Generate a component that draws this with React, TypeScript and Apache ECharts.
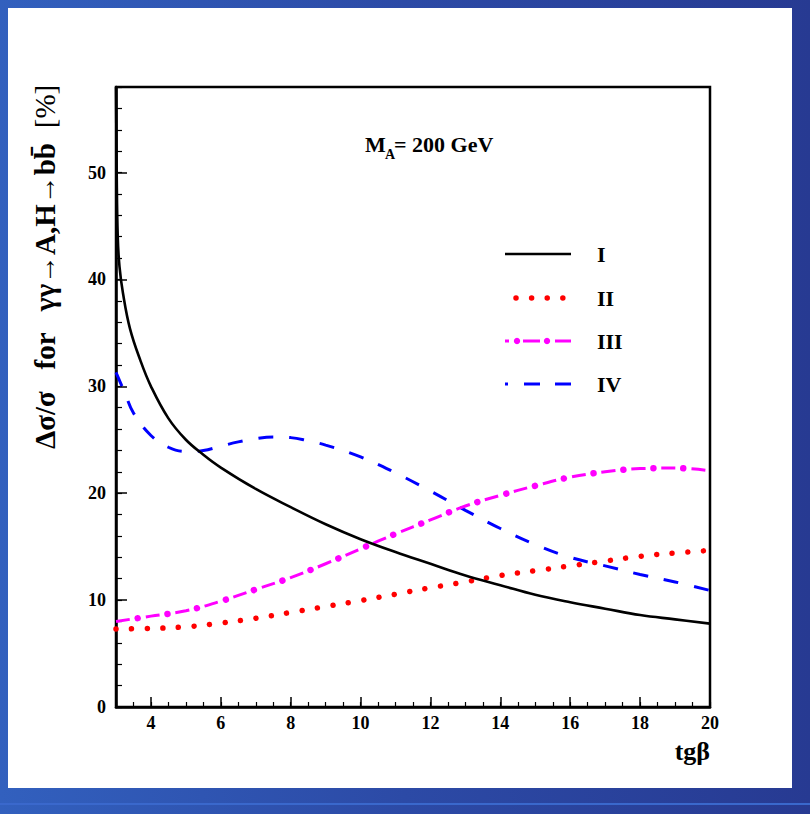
import React, { useEffect, useRef } from "react";
import * as echarts from "echarts";

// tgβ sample points and Δσ/σ [%] for the four scenarios
const xCurveI = [3.0, 3.02, 3.05, 3.1, 3.2, 3.4, 3.7, 4, 4.5, 5, 5.5, 6, 7, 8, 9, 10, 11, 12, 13, 14, 15, 16, 17, 18, 19, 20];
const yCurveI = [58, 50, 44, 41.2, 38.7, 35.4, 32.4, 30.0, 27.0, 25.0, 23.6, 22.4, 20.4, 18.7, 17.1, 15.7, 14.5, 13.4, 12.3, 11.4, 10.5, 9.8, 9.2, 8.6, 8.2, 7.8];

const xCurveII = [3, 4, 5, 6, 7, 8, 9, 10, 11, 12, 13, 14, 15, 16, 17, 18, 19, 20];
const yCurveII = [7.3, 7.35, 7.5, 7.85, 8.3, 8.85, 9.4, 9.95, 10.55, 11.15, 11.7, 12.3, 12.75, 13.2, 13.65, 14.1, 14.4, 14.65];

const xCurveIII = [3, 4, 5, 6, 7, 8, 9, 10, 11, 12, 13, 14, 15, 16, 17, 18, 19, 20];
const yCurveIII = [8.0, 8.5, 9.0, 9.9, 11.0, 12.1, 13.4, 14.8, 16.2, 17.5, 18.8, 19.8, 20.7, 21.5, 22.0, 22.3, 22.35, 22.1];

const xCurveIV = [3, 3.25, 3.5, 4, 4.5, 5, 5.5, 6, 6.5, 7, 7.5, 8, 8.5, 9, 10, 11, 12, 13, 14, 15, 16, 17, 18, 19, 20];
const yCurveIV = [31.3, 29.4, 27.5, 25.4, 24.3, 23.9, 24.0, 24.4, 24.8, 25.1, 25.25, 25.2, 24.9, 24.5, 23.4, 21.9, 20.2, 18.4, 16.7, 15.2, 14.0, 13.2, 12.4, 11.7, 10.9];

const seriesNames = ["I", "II", "III", "IV"];

// axis ticks and labels
const xTickLabels = [4, 6, 8, 10, 12, 14, 16, 18, 20];
const yTickLabels = [0, 10, 20, 30, 40, 50];
const xRange = [3, 20];
const yRange = [0, 58];

const SERIF = "Liberation Serif";

const pairs = (xs: number[], ys: number[]) => xs.map((x, i) => [x, ys[i]]);

export default function App() {
  const ref = useRef<HTMLDivElement>(null);

  useEffect(() => {
    if (!ref.current) return;
    const chart = echarts.init(ref.current, undefined, { renderer: "svg" });

    const lineBase = {
      type: "line" as const,
      showSymbol: false,
      symbol: "none",
      smooth: 0.4,
      silent: true,
      xAxisIndex: 0,
      yAxisIndex: 0,
    };

    const legendY = [254, 298, 341, 384];

    chart.setOption({
      animation: false,
      backgroundColor: "transparent",
      grid: {
        left: 116,
        top: 87,
        width: 594,
        height: 620,
        show: true,
        borderColor: "#000",
        borderWidth: 2.5,
        backgroundColor: "transparent",
      },
      xAxis: [
        {
          type: "value",
          min: xRange[0],
          max: xRange[1],
          position: "bottom",
          axisLine: { show: true, lineStyle: { color: "#000", width: 2.5 } },
          axisTick: { show: true, inside: true, length: 10, customValues: xTickLabels, lineStyle: { color: "#000", width: 1.5 } },
          axisLabel: {
            customValues: xTickLabels,
            color: "#000",
            fontFamily: SERIF,
            fontWeight: "bold",
            fontSize: 18,
            margin: 7,
          },
          splitLine: { show: false },
        },
        {
          type: "value",
          min: xRange[0],
          max: xRange[1],
          interval: 0.5,
          position: "bottom",
          axisLine: { show: false },
          axisTick: { show: true, inside: true, length: 5, lineStyle: { color: "#000", width: 1.2 } },
          axisLabel: { show: false },
          splitLine: { show: false },
        },
      ],
      yAxis: [
        {
          type: "value",
          min: yRange[0],
          max: yRange[1],
          position: "left",
          axisLine: { show: true, lineStyle: { color: "#000", width: 2.5 } },
          axisTick: { show: true, inside: true, length: 11, customValues: yTickLabels, lineStyle: { color: "#000", width: 1.5 } },
          axisLabel: {
            customValues: yTickLabels,
            color: "#000",
            fontFamily: SERIF,
            fontWeight: "bold",
            fontSize: 18,
            margin: 10,
          },
          splitLine: { show: false },
        },
        {
          type: "value",
          min: yRange[0],
          max: yRange[1],
          interval: 2,
          position: "left",
          axisLine: { show: false },
          axisTick: { show: true, inside: true, length: 6, lineStyle: { color: "#000", width: 1.2 } },
          axisLabel: { show: false },
          splitLine: { show: false },
        },
      ],
      series: [
        {
          ...lineBase,
          name: seriesNames[0],
          data: pairs(xCurveI, yCurveI),
          lineStyle: { color: "#000", width: 2.6, type: "solid" },
          z: 5,
        },
        {
          ...lineBase,
          name: seriesNames[1],
          data: pairs(xCurveII, yCurveII),
          lineStyle: { color: "#ff0000", width: 5.5, type: [0.01, 15.6], cap: "round" },
          z: 4,
        },
        {
          // dash part of the dash-dot pattern
          ...lineBase,
          name: seriesNames[2],
          data: pairs(xCurveIII, yCurveIII),
          lineStyle: { color: "#ff00ff", width: 3, type: [14, 16], dashOffset: 0 },
          z: 4,
        },
        {
          // dot part, centred in the gaps of the dashes
          ...lineBase,
          name: seriesNames[2] + " ",
          data: pairs(xCurveIII, yCurveIII),
          lineStyle: { color: "#ff00ff", width: 6.5, type: [0.01, 29.99], cap: "round", dashOffset: 8 },
          z: 4,
        },
        {
          ...lineBase,
          name: seriesNames[3],
          data: pairs(xCurveIV, yCurveIV),
          lineStyle: { color: "#0000ff", width: 3, type: [15, 16] },
          z: 3,
        },
      ],
      graphic: [
        // axis titles
        {
          type: "text",
          x: 45,
          y: 267,
          rotation: Math.PI / 2,
          style: {
            text: "{b|Δσ/σ   for   γγ→A,H→bb\u0304}{n|  [%]}",
            align: "center",
            verticalAlign: "middle",
            rich: {
              b: { fontFamily: SERIF, fontWeight: "bold", fontSize: 29, fill: "#000" },
              n: { fontFamily: SERIF, fontWeight: "normal", fontSize: 29, fill: "#000" },
            },
          },
        },
        {
          type: "text",
          x: 710,
          y: 751,
          style: { text: "tgβ", align: "right", verticalAlign: "middle", fontFamily: SERIF, fontWeight: "bold", fontSize: 26, fill: "#000" },
        },
        // M_A annotation
        {
          type: "text",
          x: 365,
          y: 144,
          style: { text: "M", align: "left", verticalAlign: "middle", fontFamily: SERIF, fontWeight: "bold", fontSize: 22, fill: "#000" },
        },
        {
          type: "text",
          x: 385,
          y: 154,
          style: { text: "A", align: "left", verticalAlign: "middle", fontFamily: SERIF, fontWeight: "bold", fontSize: 14, fill: "#000" },
        },
        {
          type: "text",
          x: 394,
          y: 144,
          style: { text: "= 200 GeV", align: "left", verticalAlign: "middle", fontFamily: SERIF, fontWeight: "bold", fontSize: 22, fill: "#000" },
        },
        // legend samples
        { type: "line", shape: { x1: 505, y1: legendY[0], x2: 571, y2: legendY[0] }, style: { stroke: "#000", lineWidth: 2.6 } },
        { type: "line", shape: { x1: 516, y1: legendY[1], x2: 566, y2: legendY[1] }, style: { stroke: "#ff0000", lineWidth: 5.5, lineDash: [0.01, 15.6], lineCap: "round" } },
        { type: "line", shape: { x1: 505, y1: legendY[2], x2: 509, y2: legendY[2] }, style: { stroke: "#ff00ff", lineWidth: 3 } },
        { type: "circle", shape: { cx: 517, cy: legendY[2], r: 3.2 }, style: { fill: "#ff00ff" } },
        { type: "line", shape: { x1: 523, y1: legendY[2], x2: 540, y2: legendY[2] }, style: { stroke: "#ff00ff", lineWidth: 3 } },
        { type: "circle", shape: { cx: 547, cy: legendY[2], r: 3.2 }, style: { fill: "#ff00ff" } },
        { type: "line", shape: { x1: 555, y1: legendY[2], x2: 571, y2: legendY[2] }, style: { stroke: "#ff00ff", lineWidth: 3 } },
        { type: "line", shape: { x1: 505, y1: legendY[3], x2: 508, y2: legendY[3] }, style: { stroke: "#0000ff", lineWidth: 3 } },
        { type: "line", shape: { x1: 524, y1: legendY[3], x2: 540, y2: legendY[3] }, style: { stroke: "#0000ff", lineWidth: 3 } },
        { type: "line", shape: { x1: 555, y1: legendY[3], x2: 571, y2: legendY[3] }, style: { stroke: "#0000ff", lineWidth: 3 } },
        ...seriesNames.map((name, i) => ({
          type: "text",
          x: 597,
          y: legendY[i],
          style: { text: name, align: "left", verticalAlign: "middle", fontFamily: SERIF, fontWeight: "bold", fontSize: 22, fill: "#000" },
        })),
      ],
    });

    return () => chart.dispose();
  }, []);

  return (
    <div
      style={{
        position: "absolute",
        left: 0,
        top: 0,
        width: 810,
        height: 814,
        background: "linear-gradient(90deg, #3260be 0%, #2c4aa6 50%, #273a92 100%)",
        overflow: "hidden",
      }}
    >
      <div style={{ position: "absolute", left: 0, top: 803, width: 810, height: 2, background: "#3a68cc" }} />
      <div style={{ position: "absolute", left: 8, top: 8, width: 784, height: 780, background: "#ffffff" }} />
      <div ref={ref} style={{ position: "absolute", left: 0, top: 0, width: 810, height: 814 }} />
    </div>
  );
}
